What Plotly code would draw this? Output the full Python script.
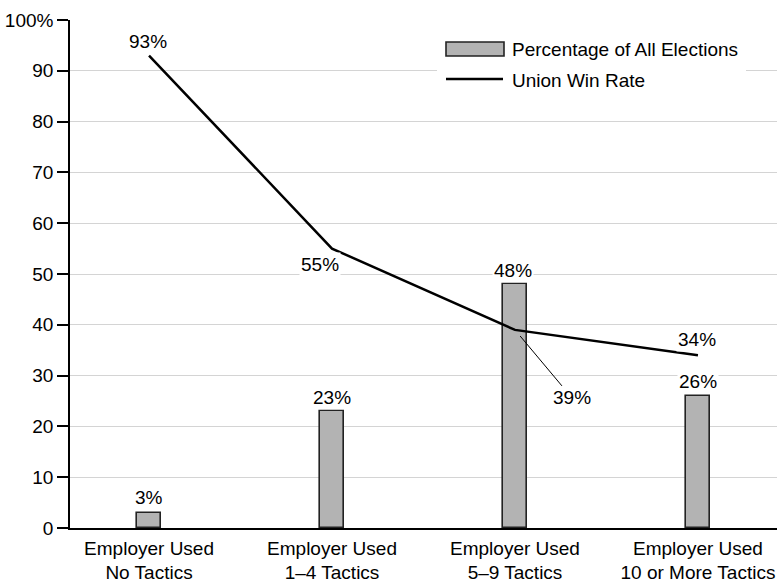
import plotly.graph_objects as go

categories = ["Employer Used<br>No Tactics", "Employer Used<br>1–4 Tactics",
              "Employer Used<br>5–9 Tactics", "Employer Used<br>10 or More Tactics"]
pct_elections = [3, 23, 48, 26]
win_rate = [93, 55, 39, 34]
y_tickvals = [0, 10, 20, 30, 40, 50, 60, 70, 80, 90, 100]
y_ticktext = ["0", "10", "20", "30", "40", "50", "60", "70", "80", "90", "100%"]
legend_names = ["Percentage of All Elections", "Union Win Rate"]

W, H = 779, 583
ML, MR, MT, MB = 70, 2, 20, 55
PW, PH = W - ML - MR, H - MT - MB
FONT = "Liberation Sans, Arial, Helvetica, sans-serif"
FS = 19

def px(x):
    return (x - ML) / PW

def py(y):
    return (H - MB - y) / PH

fig = go.Figure()
fig.add_trace(go.Bar(x=categories, y=pct_elections, width=0.13,
                     marker=dict(color="#b3b3b3", line=dict(color="#222222", width=1.6)),
                     name=legend_names[0], showlegend=False))
fig.add_trace(go.Scatter(x=categories, y=win_rate, mode="lines",
                         line=dict(color="black", width=2.5),
                         name=legend_names[1], showlegend=False))

ann = []
bar_offsets = [(0, 15), (0, 14), (-2, 14), (0, 14)]
for i, v in enumerate(pct_elections):
    xs, ys = bar_offsets[i]
    ann.append(dict(x=categories[i], y=v, text=f"{v}%", showarrow=False,
                    xshift=xs, yshift=ys, bgcolor="white", borderpad=1))
line_offsets = {0: (-1, 14), 1: (-12, -16), 3: (-1, 16)}
for i, v in enumerate(win_rate):
    if i in line_offsets:
        xs, ys = line_offsets[i]
        ann.append(dict(x=categories[i], y=v, text=f"{v}%", showarrow=False,
                        xshift=xs, yshift=ys, bgcolor="white", borderpad=1))
    else:
        ann.append(dict(x=categories[i], y=v, text=f"{v}%", showarrow=True,
                        arrowhead=0, arrowwidth=1, arrowcolor="black",
                        ax=57, ay=68, standoff=8, bgcolor="white", borderpad=1))

ann.append(dict(xref="paper", yref="paper", x=px(510), y=py(49), text=legend_names[0],
                showarrow=False, xanchor="left", yanchor="middle"))
ann.append(dict(xref="paper", yref="paper", x=px(510), y=py(80), text=legend_names[1],
                showarrow=False, xanchor="left", yanchor="middle"))

shapes = [
    dict(type="rect", xref="paper", yref="paper", x0=px(437), x1=px(746), y0=py(32), y1=py(98),
         fillcolor="white", line=dict(width=0), layer="above"),
    dict(type="rect", xref="paper", yref="paper", x0=px(446), x1=px(504), y0=py(42), y1=py(56),
         fillcolor="#b3b3b3", line=dict(color="#222222", width=1.6), layer="above"),
    dict(type="line", xref="paper", yref="paper", x0=px(446), x1=px(503), y0=py(79), y1=py(79),
         line=dict(color="black", width=2.5), layer="above"),
]

fig.update_layout(
    width=W, height=H,
    margin=dict(l=ML, r=MR, t=MT, b=MB),
    plot_bgcolor="white", paper_bgcolor="white",
    font=dict(family=FONT, size=FS, color="black"),
    showlegend=False,
    annotations=ann,
    shapes=shapes,
    bargap=0,
)
fig.update_xaxes(type="category", range=[-0.432, 3.432], showline=True, linecolor="black",
                 linewidth=1.5, ticks="", showgrid=False, tickfont=dict(size=FS),
                 ticklabelstandoff=2, automargin=False)
fig.update_yaxes(range=[0, 100], tickvals=y_tickvals, ticktext=y_ticktext, showline=True,
                 linecolor="black", linewidth=1.5, ticks="outside", ticklen=11, tickwidth=1.5,
                 tickcolor="black", showgrid=True, gridcolor="#d4d4d4", gridwidth=1,
                 zeroline=False, tickfont=dict(size=FS), automargin=False)

fig.write_html("out.html", config={"displayModeBar": False},
               post_script="document.body.style.margin='0';document.body.style.overflow='hidden';")
